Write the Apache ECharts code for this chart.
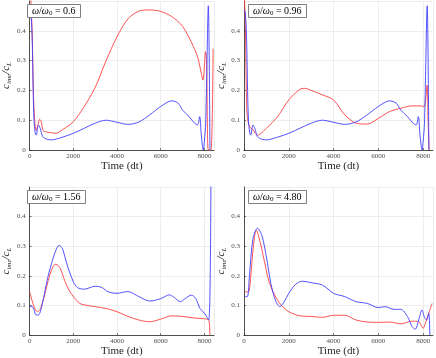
<!DOCTYPE html>
<html>
<head>
<meta charset="utf-8">
<script src="https://cdn.jsdelivr.net/npm/echarts@6/dist/echarts.min.js"></script>
<style>
  html, body { margin: 0; padding: 0; background: #fff; }
  #chart { width: 436px; height: 358px; }
</style>
</head>
<body>
<div id="chart"></div>
<script>
// frequency ratio of each panel
var ratios = ['0.6', '0.96', '1.56', '4.80'];
var xTicks = [0, 2000, 4000, 6000, 8000];
var yTicks = [0, 0.1, 0.2, 0.3, 0.4];

// blue reference curve (same in the two upper panels)
var blueTop = [[0, 0.47], [60, 0.46], [120, 0.36], [160, 0.2], [200, 0.1], [250, 0.06], [300, 0.05],
    [400, 0.084], [480, 0.073], [600, 0.045], [800, 0.036], [1000, 0.034], [1500, 0.043], [2000, 0.056],
    [2500, 0.073], [3000, 0.09], [3500, 0.1], [4000, 0.093], [4500, 0.086], [5000, 0.094], [5500, 0.118],
    [6000, 0.146], [6500, 0.165], [6800, 0.157], [7000, 0.134], [7300, 0.112], [7550, 0.09], [7690, 0.084],
    [7785, 0.112], [7860, 0.05], [7950, 0], [8000, 0.03], [8060, 0.09], [8180, 0.484], [8255, 0]];

var red1 = [[0, 0.56], [60, 0.5], [120, 0.38], [170, 0.2], [230, 0.1], [300, 0.066], [380, 0.085],
    [460, 0.103], [530, 0.095], [620, 0.065], [800, 0.06], [1000, 0.058], [1200, 0.056], [1500, 0.068],
    [2000, 0.095], [2500, 0.146], [3000, 0.21], [3500, 0.3], [4000, 0.38], [4500, 0.44], [5000, 0.466],
    [5500, 0.47], [6000, 0.465], [6500, 0.448], [7000, 0.415], [7500, 0.347], [7700, 0.31], [7850, 0.26],
    [7934, 0.235], [8000, 0.28], [8050, 0.33], [8100, 0.3], [8180, 0], [8300, 0], [8400, 0.34]];

var red2 = [[0, 0.55], [60, 0.42], [100, 0.22], [150, 0.11], [250, 0.078], [400, 0.068], [500, 0.056],
    [600, 0.05], [1000, 0.073], [1500, 0.112], [2000, 0.168], [2500, 0.204], [2700, 0.207], [3000, 0.2],
    [3500, 0.185], [4000, 0.168], [4500, 0.118], [5000, 0.09], [5500, 0.087], [6000, 0.106], [6500, 0.129],
    [7000, 0.14], [7500, 0.148], [7900, 0.148], [8050, 0.145], [8100, 0.16], [8180, 0.218], [8220, 0.1],
    [8270, 0]];

var blue3 = [[0, 0.098], [150, 0.094], [300, 0.068], [400, 0.068], [600, 0.113], [800, 0.185],
    [1000, 0.241], [1200, 0.286], [1350, 0.303], [1500, 0.292], [1700, 0.241], [2000, 0.18], [2200, 0.16],
    [2500, 0.155], [3000, 0.165], [3300, 0.161], [3600, 0.146], [4000, 0.141], [4500, 0.147], [5000, 0.13],
    [5500, 0.115], [6000, 0.123], [6400, 0.136], [6600, 0.128], [6900, 0.113], [7100, 0.122], [7400, 0.135],
    [7600, 0.124], [7800, 0.09], [8000, 0.074], [8200, 0.051], [8300, 0.56]];

var red3 = [[0, 0.146], [200, 0.096], [350, 0.079], [500, 0.09], [700, 0.14], [900, 0.197], [1100, 0.236],
    [1200, 0.239], [1400, 0.225], [1600, 0.185], [1800, 0.152], [2000, 0.13], [2300, 0.107], [2500, 0.102],
    [3000, 0.096], [3500, 0.09], [4000, 0.079], [4500, 0.063], [5000, 0.051], [5500, 0.045], [6000, 0.054],
    [6500, 0.065], [7000, 0.063], [7500, 0.058], [8000, 0.055], [8200, 0.051], [8250, 0]];

var blue4 = [[50, 0.13], [150, 0.13], [250, 0.208], [400, 0.325], [600, 0.361], [800, 0.336],
    [1000, 0.264], [1200, 0.174], [1400, 0.118], [1600, 0.096], [1800, 0.113], [2000, 0.141], [2300, 0.171],
    [2600, 0.182], [3000, 0.177], [3500, 0.169], [4000, 0.141], [4500, 0.13], [5000, 0.113], [5500, 0.107],
    [6000, 0.093], [6300, 0.096], [6700, 0.087], [7000, 0.087], [7300, 0.063], [7500, 0.029], [7650, 0.02],
    [7800, 0.051], [7950, 0.085], [8050, 0.062], [8150, 0.051], [8250, 0.074], [8300, 0]];

var red4 = [[50, 0.146], [200, 0.146], [300, 0.197], [400, 0.286], [500, 0.347], [550, 0.353],
    [700, 0.32], [900, 0.253], [1100, 0.185], [1300, 0.146], [1600, 0.107], [2000, 0.079], [2500, 0.065],
    [3000, 0.063], [3500, 0.06], [4000, 0.067], [4500, 0.067], [5000, 0.051], [5500, 0.044], [6000, 0.043],
    [6500, 0.044], [7000, 0.038], [7500, 0.047], [7800, 0.045], [8000, 0.023], [8100, 0.04], [8250, 0.074],
    [8400, 0.107]];

var blues = [blueTop, blueTop, blue3, blue4];
var reds = [red1, red2, red3, red4];

var font = 'Liberation Serif';
var grids = [
    { left: 23, top: 1, width: 191, height: 149 },
    { left: 244, top: 1, width: 189, height: 149 },
    { left: 23, top: 187, width: 191, height: 150 },
    { left: 244, top: 187, width: 189, height: 150 }
];

var dom = document.getElementById('chart');
var myChart = echarts.init(dom, null, { renderer: 'canvas' });

var xAxes = [], yAxes = [], series = [], titles = [];
grids.forEach(function (g, i) {
    xAxes.push({
        gridIndex: i, type: 'value', min: 0, max: 8440, interval: 2000,
        name: 'Time (dt)', nameLocation: 'middle', nameGap: 10,
        nameTextStyle: { fontFamily: font, fontSize: 11, color: '#262626' },
        axisLine: { lineStyle: { color: '#262626', width: 0.8 } },
        axisTick: { inside: true, length: 2, lineStyle: { color: '#262626', width: 0.6 } },
        axisLabel: {
            fontFamily: font, fontSize: 7, color: '#4d4d4d', margin: 3, showMaxLabel: false,
            formatter: function (v) { return xTicks.indexOf(v) >= 0 ? String(v) : ''; }
        },
        splitLine: { lineStyle: { color: '#e8e8e8', width: 0.8 } }
    });
    yAxes.push({
        gridIndex: i, type: 'value', min: 0, max: 0.5, interval: 0.1,
        name: '{c|c}{s|ime}{c|/c}{s|L}', nameLocation: 'middle', nameGap: 10, nameRotate: 90,
        nameTextStyle: {
            rich: {
                c: { fontFamily: font, fontStyle: 'italic', fontSize: 11, color: '#262626' },
                s: { fontFamily: font, fontStyle: 'italic', fontSize: 7, color: '#262626', padding: [6, 0, 0, 0] }
            }
        },
        axisLine: { show: true, lineStyle: { color: '#262626', width: 0.8 } },
        axisTick: { show: true, inside: true, length: 2, lineStyle: { color: '#262626', width: 0.6 } },
        axisLabel: {
            fontFamily: font, fontSize: 7, color: '#4d4d4d', margin: 4, showMaxLabel: false,
            formatter: function (v) {
                var k = yTicks.indexOf(Math.round(v * 10) / 10);
                if (k < 0) return '';
                return v === 0 ? '0' : yTicks[k].toFixed(1);
            }
        },
        splitLine: { lineStyle: { color: '#e8e8e8', width: 0.8 } }
    });
    series.push({
        type: 'line', xAxisIndex: i, yAxisIndex: i, data: reds[i], showSymbol: false,
        smooth: 0.3, clip: true, lineStyle: { color: '#ff4040', width: 0.9 }
    });
    series.push({
        type: 'line', xAxisIndex: i, yAxisIndex: i, data: blues[i], showSymbol: false,
        smooth: 0.3, clip: true, lineStyle: { color: '#4040ff', width: 0.9 }
    });
    titles.push({
        text: '{w|ω}/{w|ω}{s|0} = ' + ratios[i],
        left: g.left + 4, top: g.top + 2,
        padding: [2, 5, 1, 5],
        borderColor: '#808080', borderWidth: 1, backgroundColor: '#fff',
        textStyle: {
            fontFamily: font, fontSize: 10, color: '#000', fontWeight: 'normal',
            rich: {
                w: { fontFamily: font, fontStyle: 'italic', fontSize: 10, color: '#000' },
                s: { fontFamily: font, fontSize: 7, color: '#000', padding: [5, 0, 0, 0] }
            }
        }
    });
});

var option = {
    backgroundColor: '#fff',
    animation: false,
    title: titles,
    grid: grids,
    xAxis: xAxes,
    yAxis: yAxes,
    series: series
};

if (option && typeof option === 'object') {
    myChart.setOption(option);
}

window.addEventListener('resize', myChart.resize);
</script>
</body>
</html>
